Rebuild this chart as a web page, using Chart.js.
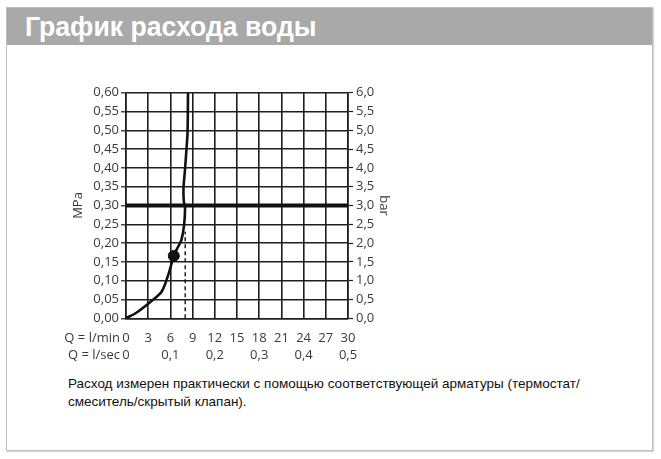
<!DOCTYPE html>
<html><head><meta charset="utf-8">
<script src="https://cdn.jsdelivr.net/npm/chart.js@4.4.0/dist/chart.umd.min.js"></script>
<style>
html,body{margin:0;padding:0;background:#fff;width:661px;height:459px;overflow:hidden;}
#box{position:absolute;left:6px;top:7px;width:645px;height:442px;border:1px solid #bdbdbd;box-shadow:1px 1px 1px #d6d6d6;}
#bar{position:absolute;left:0;top:0;right:0;height:37px;background:#a9a9a9;}
#title{position:absolute;left:18px;top:5px;color:#fff;font:bold 28px/28px "Liberation Sans",Arial,sans-serif;white-space:nowrap;transform:scaleX(0.95);transform-origin:0 0;}
#note{position:absolute;left:68px;top:374.5px;font:13.5px/18.4px "Liberation Sans",Arial,sans-serif;color:#111;}
canvas{position:absolute;left:0;top:0;}
</style></head>
<body>
<div id="box"><div id="bar"><div id="title">График расхода воды</div></div></div>
<div id="note">Расход измерен практически с помощью соответствующей арматуры (термостат/<br>смеситель/скрытый клапан).</div>
<canvas id="c" width="661" height="459"></canvas>
<script>
// Flow curve (l/min vs MPa)
const flowLpm     = [0, 1.45, 3.45, 4.85, 5.75, 6.46, 6.95, 7.48, 7.85, 7.98, 7.82, 7.77, 7.95, 8.18, 8.32, 8.38];
const pressureMPa = [0, 0.0155, 0.046, 0.072, 0.118, 0.166, 0.187, 0.208, 0.248, 0.296, 0.31, 0.346, 0.39, 0.452, 0.496, 0.60];
// Marked operating point
const pointFlow = [6.46];
const pointPressure = [0.166];
// Dashed reference line at 8 l/min
const dashFlow = [8.0, 8.0];
const dashPressure = [0, 0.23];
// Thick reference pressure line
const refFlow = [0, 30];
const refPressure = [0.30, 0.30];
// Tick labels
const lpmTicks  = [0, 3, 6, 9, 12, 15, 18, 21, 24, 27, 30];
const lsecTicks = [0, 0.1, 0.2, 0.3, 0.4, 0.5];
const mpaTicks  = [0, 0.05, 0.10, 0.15, 0.20, 0.25, 0.30, 0.35, 0.40, 0.45, 0.50, 0.55, 0.60];
const barTicks  = [0, 0.5, 1, 1.5, 2, 2.5, 3, 3.5, 4, 4.5, 5, 5.5, 6];

const pts = (xs, ys) => xs.map((x, i) => ({x: x, y: ys[i]}));
const comma = s => String(s).replace('.', ',');
const FONT = {family: '"Open Sans", "DejaVu Sans", sans-serif', size: 13};
const TXT = '#3a3a3a';
const GRID = '#1e1e1e';

const rowLabels = {
  id: 'rowLabels',
  afterDraw(chart) {
    const ctx = chart.ctx;
    const ca = chart.chartArea;
    ctx.save();
    ctx.font = '13px ' + FONT.family;
    ctx.fillStyle = TXT;
    ctx.textAlign = 'right';
    ctx.textBaseline = 'middle';
    const sx = chart.scales.x, sx2 = chart.scales.x2;
    ctx.fillText('Q = l/min', ca.left - 6, sx.top + sx.options.ticks.padding + 7.8);
    ctx.fillText('Q = l/sec', ca.left - 6, sx2.top + sx2.options.ticks.padding + 7.8);
    ctx.restore();
  }
};

new Chart(document.getElementById('c'), {
  type: 'scatter',
  data: {
    datasets: [
      {data: pts(refFlow, refPressure), showLine: true, borderColor: '#111', borderWidth: 4, pointRadius: 0},
      {data: pts(dashFlow, dashPressure), showLine: true, borderColor: '#111', borderWidth: 1.4, borderDash: [4, 3], pointRadius: 0},
      {data: pts(flowLpm, pressureMPa), showLine: true, borderColor: '#111', borderWidth: 2.6, pointRadius: 0, tension: 0.3},
      {data: pts(pointFlow, pointPressure), showLine: false, pointRadius: 5.5, pointBackgroundColor: '#111', pointBorderColor: '#111'}
    ]
  },
  options: {
    responsive: false,
    animation: false,
    layout: {padding: {left: 60, top: 92.7, right: 263, bottom: 82.7}},
    plugins: {legend: {display: false}, tooltip: {enabled: false}},
    scales: {
      x: {
        type: 'linear', position: 'bottom', weight: 0, min: 0, max: 30,
        afterBuildTicks: s => { s.ticks = lpmTicks.map(v => ({value: v})); },
        grid: {color: GRID, lineWidth: 1.6, drawTicks: false},
        border: {color: GRID, width: 1.6},
        ticks: {padding: 12, font: FONT, color: TXT, callback: v => comma(v), maxRotation: 0, autoSkip: false},
        afterFit: s => { s.height = 28; }
      },
      x2: {
        type: 'linear', position: 'bottom', weight: 1, min: 0, max: 0.5,
        afterBuildTicks: s => { s.ticks = lsecTicks.map(v => ({value: v})); },
        grid: {display: false, drawTicks: false},
        border: {display: false},
        ticks: {padding: 1, font: FONT, color: TXT, callback: v => comma(v), maxRotation: 0, autoSkip: false},
        afterFit: s => { s.height = 30; }
      },
      y: {
        type: 'linear', position: 'left', min: 0, max: 0.6,
        afterBuildTicks: s => { s.ticks = mpaTicks.map(v => ({value: v})); },
        grid: {color: GRID, lineWidth: 1.6, tickLength: 5, tickColor: GRID, tickWidth: 1.2},
        border: {color: GRID, width: 1.6},
        ticks: {padding: 2, font: FONT, color: TXT, callback: v => comma(v.toFixed(2)), autoSkip: false},
        title: {display: true, text: 'MPa', font: FONT, color: TXT, padding: {top: 10, bottom: 0}},
        afterFit: s => { s.width = 66; }
      },
      y2: {
        type: 'linear', position: 'right', min: 0, max: 6,
        afterBuildTicks: s => { s.ticks = barTicks.map(v => ({value: v})); },
        grid: {drawOnChartArea: false, tickLength: 5, tickColor: GRID, tickWidth: 1.2},
        border: {color: GRID, width: 1.6},
        ticks: {padding: 3, font: FONT, color: TXT, callback: v => comma(v.toFixed(1)), autoSkip: false},
        title: {display: true, text: 'bar', font: FONT, color: TXT, padding: {top: 6, bottom: 0}},
        afterFit: s => { s.width = 50; }
      }
    }
  },
  plugins: [rowLabels]
});
</script>
</body></html>
